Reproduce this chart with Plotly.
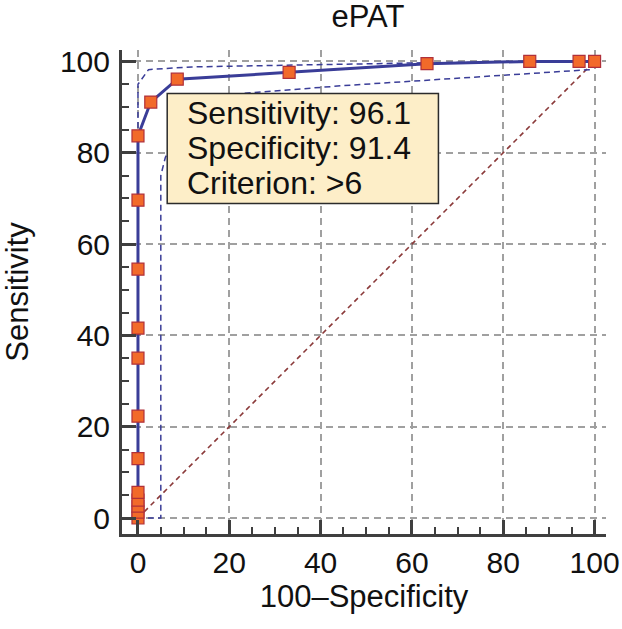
import plotly.graph_objects as go

# ROC points (100-Specificity, Sensitivity)
fpr = [0, 0, 0, 0, 0, 0, 0, 0, 0, 0, 0, 0, 2.8, 8.6, 33.1, 63.3, 85.8, 96.6, 100]
sens = [0, 1.3, 2.6, 3.9, 5.6, 13.0, 22.3, 35.0, 41.6, 54.5, 69.6, 83.7, 91.1, 96.1, 97.6, 99.5, 100, 100, 100]

# Confidence bands
upper_x = [0, 0, 2.3, 11.8, 63.0, 100]
upper_y = [0, 95.0, 98.2, 98.8, 99.7, 100]
lower_x = [0, 5, 5, 6, 10, 23, 45, 99, 100]
lower_y = [0, 0, 75, 79, 86, 93, 94.7, 98.2, 100]

diag = [0, 100]
tick_vals = [0, 20, 40, 60, 80, 100]
box_lines = ["Sensitivity: 96.1", "Specificity: 91.4", "Criterion: >6"]

FONT = "Liberation Sans, Arial, sans-serif"
AX = "#3f3f3f"
NAVY = "#3a3d98"

fig = go.Figure()
fig.add_trace(go.Scatter(x=diag, y=diag, mode="lines",
                         line=dict(color="#8b3a3a", width=1.6, dash="5px,4px"),
                         hoverinfo="skip", showlegend=False))
fig.add_trace(go.Scatter(x=upper_x, y=upper_y, mode="lines",
                         line=dict(color=NAVY, width=1.5, dash="6px,4px"),
                         showlegend=False))
fig.add_trace(go.Scatter(x=lower_x, y=lower_y, mode="lines",
                         line=dict(color=NAVY, width=1.5, dash="6px,4px"),
                         showlegend=False))
fig.add_trace(go.Scatter(x=fpr, y=sens, mode="lines+markers",
                         line=dict(color=NAVY, width=3),
                         marker=dict(symbol="square", size=12, color="#f26a2a",
                                     line=dict(color="#b0303a", width=1.2)),
                         cliponaxis=False, showlegend=False))

# Annotation box
fig.add_shape(type="rect", xref="x", yref="y", x0=6.4, x1=65.8, y0=68.9, y1=93.0,
              fillcolor="#fdeec8", line=dict(color="#2b2b2b", width=1.5), layer="above")
for yy, txt in zip([88.7, 81.0, 73.4], box_lines):
    fig.add_annotation(x=10.3, y=yy, xref="x", yref="y", text=txt, showarrow=False,
                       xanchor="left", yanchor="middle",
                       font=dict(family=FONT, size=32, color="#111"))

axis_common = dict(
    tickmode="array", tickvals=tick_vals,
    showgrid=True, gridcolor="#a0a0a0", gridwidth=1.5, griddash="7px,5px",
    zeroline=False, showline=True, linecolor=AX, linewidth=3,
    ticks="inside", ticklen=14, tickwidth=3, tickcolor=AX,
    minor=dict(dtick=5, tick0=0, ticks="inside", ticklen=7, tickwidth=2,
               tickcolor=AX, showgrid=False),
    tickfont=dict(family=FONT, size=30, color="#111"),
    range=[-3.5, 102.5], fixedrange=True, mirror=False, automargin=False,
)

fig.update_xaxes(**axis_common,
                 title=dict(text="100–Specificity", font=dict(family=FONT, size=31, color="#111"),
                            standoff=7))
fig.update_yaxes(**axis_common, ticklabelstandoff=3,
                 title=dict(text="Sensitivity", font=dict(family=FONT, size=31, color="#111"),
                            standoff=38))

fig.update_layout(
    width=622, height=629,
    margin=dict(l=122, r=16, t=50, b=95),
    paper_bgcolor="white", plot_bgcolor="white",
    title=dict(text="ePAT", x=0.508, xref="paper", y=1 - 16 / 629, yref="container",
               xanchor="center", yanchor="middle",
               font=dict(family=FONT, size=31, color="#111")),
    showlegend=False,
)

fig.write_html("out.html", config={"displayModeBar": False},
               post_script="document.body.style.margin='0px';document.body.style.overflow='hidden';")
